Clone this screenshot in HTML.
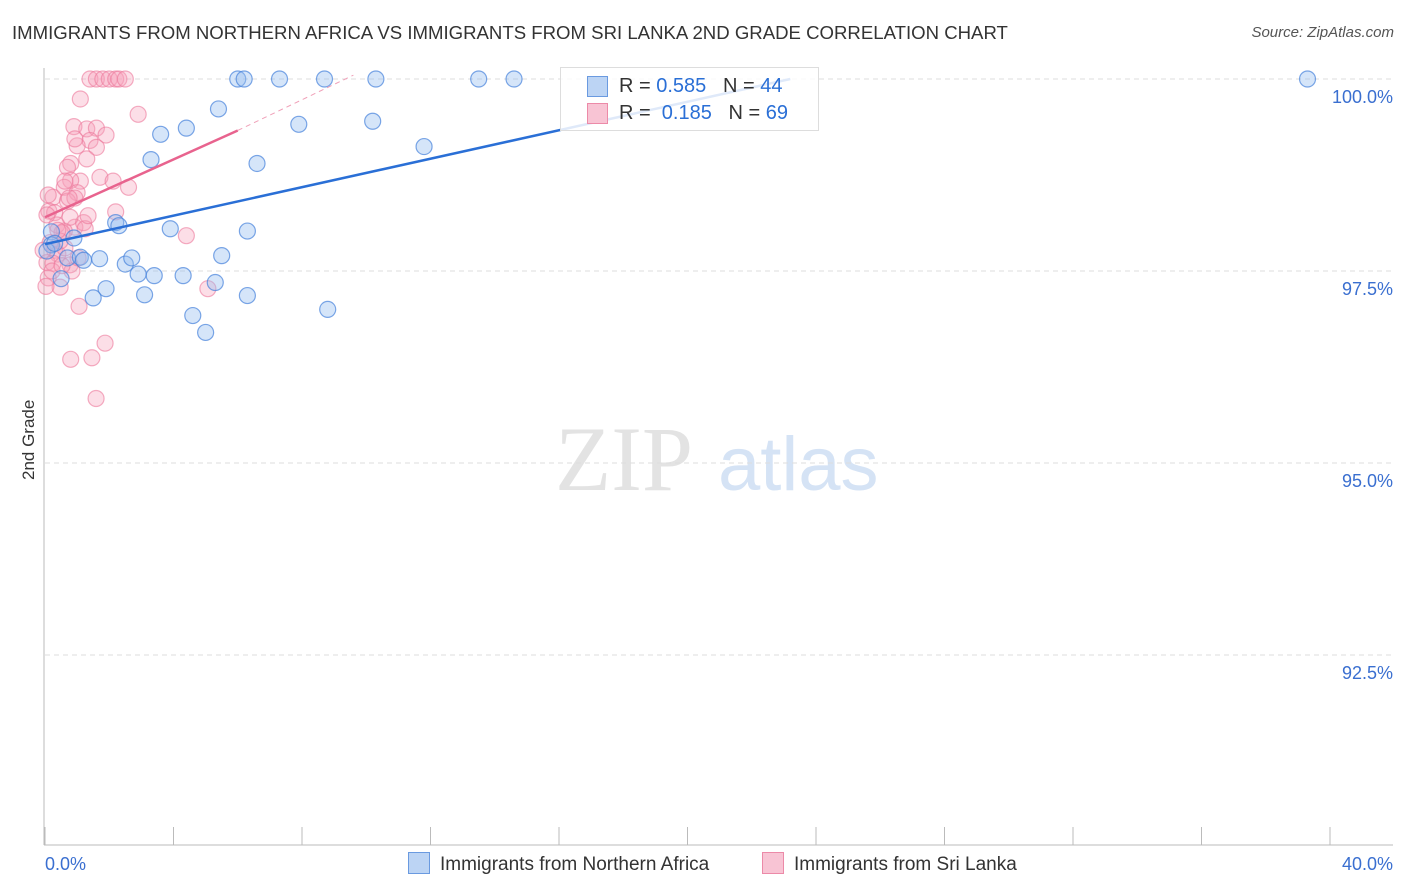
<!DOCTYPE html>
<html><head><meta charset="utf-8"><style>
body{margin:0;background:#fff;font-family:"Liberation Sans",sans-serif;}
#c{position:relative;width:1406px;height:892px;overflow:hidden}
.t{position:absolute;white-space:nowrap}
</style></head><body>
<div id="c">
<div class="t" style="left:12px;top:22px;font-size:18.6px;color:#333">IMMIGRANTS FROM NORTHERN AFRICA VS IMMIGRANTS FROM SRI LANKA 2ND GRADE CORRELATION CHART</div>
<div class="t" style="right:12px;top:24px;font-size:15px;color:#555;font-style:italic">Source: ZipAtlas.com</div>
<div class="t" style="left:4px;top:445px;font-size:17px;color:#333;transform:rotate(-90deg);transform-origin:center;width:50px;text-align:center">2nd Grade</div>
<svg id="s" width="1406" height="892" style="position:absolute;left:0;top:0"></svg>
</div>
<script>
const blueX=[6,6.2,7.3,8.7,10.3,13.5,14.6,39.3,5.4,3.6,4.4,7.9,10.2,11.8,3.3,6.6,2.2,2.3,3.9,6.3,0.9,0.2,0.2,0.7,1.1,1.7,2.5,2.7,2.9,3.4,4.3,5.5,0.5,1.9,1.5,3.1,5.3,6.3,8.8,4.6,5,0.06,0.3,1.2];
const blueY=[100,100,100,100,100,100,100,100,99.61,99.28,99.36,99.41,99.45,99.12,98.95,98.9,98.13,98.09,98.05,98.02,97.93,98.01,97.84,97.67,97.68,97.66,97.59,97.67,97.46,97.44,97.44,97.7,97.4,97.27,97.15,97.19,97.35,97.18,97,96.92,96.7,97.76,97.86,97.64];
const pinkX=[1.4,1.6,1.8,2,2.2,2.3,2.5,1.1,2.9,0.9,1.3,1.6,1.9,1.4,1,1.6,1.3,0.8,0.7,1.1,0.8,0.6,1,2.6,0.25,0.1,0.7,0.12,0.3,0.37,0.93,1.2,2.2,4.4,0.6,0.16,0.3,0.4,0.78,0.84,0.1,0.47,0.03,1.06,5.07,1.87,0.8,1.46,1.59,-0.06,0.06,0.53,1.25,0.25,0.62,0.47,0.06,0.78,0.93,0.62,1.71,2.12,0.4,1.03,0.75,1.34,0.22,0.53,0.93];
const pinkY=[100,100,100,100,100,100,100,99.74,99.54,99.38,99.35,99.36,99.27,99.2,99.13,99.11,98.96,98.9,98.85,98.67,98.68,98.59,98.52,98.59,98.46,98.49,98.41,98.28,98.26,98.1,98.07,98.13,98.27,97.96,98.02,97.87,97.77,97.72,97.58,97.5,97.41,97.29,97.3,97.04,97.27,96.56,96.35,96.37,95.84,97.77,97.61,98,98.05,97.6,97.8,97.89,98.23,98.2,98.45,98.67,98.72,98.67,98.03,97.67,98.45,98.22,97.5,97.57,99.22];
const yTicks=[100,97.5,95,92.5];
const yTickLabels=["100.0%","97.5%","95.0%","92.5%"];
const blueLine=[[0,97.85],[23.2,100]];
const pinkLine=[[0,98.2],[6,99.33]];
const pinkDash=[[6,99.33],[9.6,100.05]];
const NS="http://www.w3.org/2000/svg";
const s=document.getElementById('s');
const X=v=>45+v/40*1285, Y=v=>79+(100-v)/2.5*192;
function el(t,a,p){const e=document.createElementNS(NS,t);for(const k in a)e.setAttribute(k,a[k]);(p||s).appendChild(e);return e;}
let w=el('text',{x:555,y:490,'font-size':92,fill:'#e3e3e3','font-family':'Liberation Serif, serif'});w.textContent='ZIP';


let w2=el('text',{x:718,y:490,'font-size':76,fill:'#d5e3f5','font-family':'Liberation Sans, sans-serif'});w2.textContent='atlas';


yTicks.forEach((v,i)=>{
 const g=el('line',{x1:45,x2:1393,y1:Y(v),y2:Y(v),stroke:'#ddd','stroke-dasharray':'5,4'});
 
 
 const t=el('text',{x:1393,y:Y(v)+24,'text-anchor':'end','font-size':18,fill:'#3a6fd0'});t.textContent=yTickLabels[i];
 
 
});
let ax=el('line',{x1:44,x2:44,y1:68,y2:845,stroke:'#bbb'});


let bx=el('line',{x1:44,x2:1393,y1:845,y2:845,stroke:'#bbb'});


for(let i=0;i<=10;i++){const tk=el('line',{x1:X(i*4),x2:X(i*4),y1:827,y2:845,stroke:'#bbb'});

}
[["0.0%",45,'start'],["40.0%",1393,'end']].forEach(a=>{const t=el('text',{x:a[1],y:870,'text-anchor':a[2],'font-size':18,fill:'#3a6fd0'});t.textContent=a[0];

});
pinkX.forEach((v,i)=>{const c=el('circle',{cx:X(v),cy:Y(pinkY[i]),r:8,fill:'rgba(246,160,185,0.35)',stroke:'rgba(236,120,155,0.6)','stroke-width':1.2});

});
blueX.forEach((v,i)=>{const c=el('circle',{cx:X(v),cy:Y(blueY[i]),r:8,fill:'rgba(150,190,240,0.4)',stroke:'rgba(70,130,220,0.7)','stroke-width':1.2});

});
let l1=el('line',{x1:X(blueLine[0][0]),y1:Y(blueLine[0][1]),x2:X(blueLine[1][0]),y2:Y(blueLine[1][1]),stroke:'#2a6fd6','stroke-width':2.5});


let l2=el('line',{x1:X(pinkLine[0][0]),y1:Y(pinkLine[0][1]),x2:X(pinkLine[1][0]),y2:Y(pinkLine[1][1]),stroke:'#e8638e','stroke-width':2.5});


let l3=el('line',{x1:X(pinkDash[0][0]),y1:Y(pinkDash[0][1]),x2:X(pinkDash[1][0]),y2:Y(pinkDash[1][1]),stroke:'#f0a0b8','stroke-width':1,'stroke-dasharray':'5,4'});


</script>
<div class="t" style="left:560px;top:67px;width:257px;height:62px;border:1px solid #ddd;background:rgba(255,255,255,0.85);font-size:20px;color:#333">
 <div style="position:absolute;left:26px;top:8px;width:19px;height:19px;background:#bcd4f4;border:1px solid #6a9ae0"></div>
 <div class="t" style="left:58px;top:7px">R = <span style="color:#2a6fd6">0.585</span>&nbsp;&nbsp;&nbsp;N = <span style="color:#2a6fd6">44</span></div>
 <div style="position:absolute;left:26px;top:35px;width:19px;height:19px;background:#f8c4d4;border:1px solid #ec8aa8"></div>
 <div class="t" style="left:58px;top:34px">R = &nbsp;<span style="color:#2a6fd6">0.185</span>&nbsp;&nbsp;&nbsp;N = <span style="color:#2a6fd6">69</span></div>
</div>
<div class="t" style="left:408px;top:852px;font-size:19px;color:#333"><span style="display:inline-block;width:20px;height:20px;background:#bcd4f4;border:1px solid #6a9ae0;vertical-align:-4px;margin-right:10px"></span>Immigrants from Northern Africa</div>
<div class="t" style="left:762px;top:852px;font-size:19px;color:#333"><span style="display:inline-block;width:20px;height:20px;background:#f8c4d4;border:1px solid #ec8aa8;vertical-align:-4px;margin-right:10px"></span>Immigrants from Sri Lanka</div>
</body></html>
